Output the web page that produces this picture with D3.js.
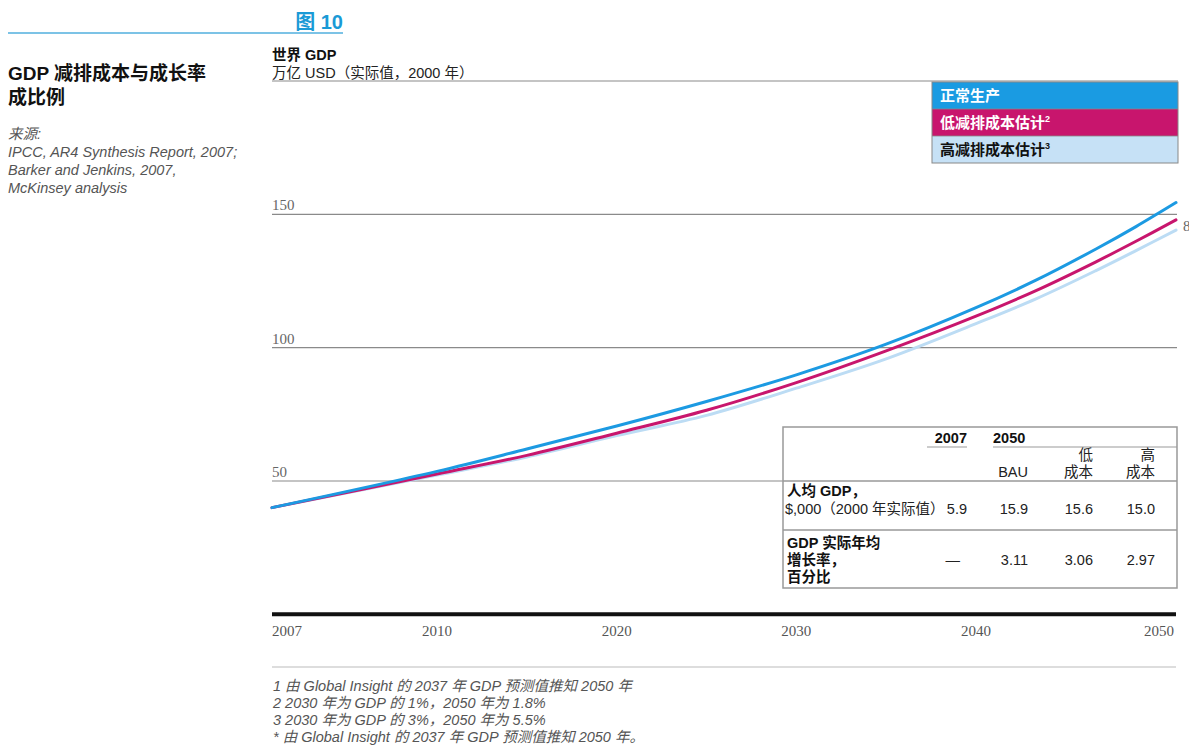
<!DOCTYPE html>
<html>
<head>
<meta charset="utf-8">
<script src="https://cdn.jsdelivr.net/npm/d3@7"></script>
<style>
  html, body { margin: 0; padding: 0; background: #ffffff; }
  svg { display: block; }
  .sans { font-family: "Liberation Sans", "Noto Sans CJK SC", sans-serif; }
  .serif { font-family: "Liberation Serif", "DejaVu Serif", serif; }
</style>
</head>
<body>
<svg id="chart" width="1189" height="746"></svg>
<script>
// World GDP, trillion USD (real, 2000)
const years    = [2007, 2010, 2015, 2020, 2025, 2030, 2035, 2040, 2043, 2046, 2048, 2050];
const bau      = [40.0, 53.6, 62.0, 70.6, 79.8, 89.8, 101.3, 115.0, 125.3, 137.0, 145.4, 154.4];
const lowCost  = [40.0, 52.6, 59.6, 67.9, 76.5, 86.9, 98.8, 111.8, 121.4, 132.2, 139.9, 147.9];
const highCost = [40.0, 52.2, 59.0, 67.0, 74.6, 84.8, 95.8, 109.0, 118.3, 128.9, 136.4, 144.1];

const seriesNames = ["正常生产", "低减排成本估计", "高减排成本估计"];
const seriesSup = ["", "2", "3"];

const xTicks = [2007, 2010, 2020, 2030, 2040, 2050];
const yTicks = [50, 100, 150];

// summary table
const tableYears = ["2007", "2050"];
const tableCols = ["BAU", ["低", "成本"], ["高", "成本"]];
const perCapita = ["5.9", "15.9", "15.6", "15.0"];
const growthRate = ["—", "3.11", "3.06", "2.97"];

const footnotes = [
  "1 由 Global Insight 的 2037 年 GDP 预测值推知 2050 年",
  "2 2030 年为 GDP 的 1%，2050 年为 1.8%",
  "3 2030 年为 GDP 的 3%，2050 年为 5.5%",
  "* 由 Global Insight 的 2037 年 GDP 预测值推知 2050 年。"
];

const colors = ["#1c9ae2", "#c8166d", "#bcdcf4"];
const legendFills = ["#1a9be2", "#c8156d", "#c6e1f6"];
const legendText = ["#ffffff", "#ffffff", "#111111"];

const svg = d3.select("#chart");

const x = d3.scaleLinear().domain([2007, 2010, 2040, 2050]).range([272, 437, 976, 1176]);
const y = d3.scaleLinear().domain([0, 200]).range([614.3, 81]);

// heading
svg.append("line").attr("x1", 8).attr("x2", 343).attr("y1", 33).attr("y2", 33)
  .attr("stroke", "#7cc3e6").attr("stroke-width", 2);
svg.append("text").attr("class", "sans").attr("x", 343).attr("y", 29)
  .attr("text-anchor", "end").attr("font-size", 20).attr("font-weight", "bold")
  .attr("fill", "#1a9ad6").text("图 10");

const title = svg.append("text").attr("class", "sans").attr("font-size", 19)
  .attr("font-weight", "bold").attr("fill", "#111");
title.append("tspan").attr("x", 8).attr("y", 80).text("GDP 减排成本与成长率");
title.append("tspan").attr("x", 8).attr("y", 104).text("成比例");

const src = svg.append("text").attr("class", "sans").attr("font-size", 14.5)
  .attr("font-style", "italic").attr("fill", "#555");
["来源:", "IPCC, AR4 Synthesis Report, 2007;", "Barker and Jenkins, 2007,", "McKinsey analysis"]
  .forEach((t, i) => src.append("tspan").attr("x", 8).attr("y", 139 + i * 18).text(t));

// axis title
svg.append("text").attr("class", "sans").attr("x", 272).attr("y", 60)
  .attr("font-size", 14.5).attr("font-weight", "bold").attr("fill", "#111").text("世界 GDP");
svg.append("text").attr("class", "sans").attr("x", 272).attr("y", 78)
  .attr("font-size", 14.5).attr("fill", "#222").text("万亿 USD（实际值，2000 年）");

// top frame line and gridlines
svg.append("line").attr("x1", 272).attr("x2", 1178).attr("y1", y(200)).attr("y2", y(200))
  .attr("stroke", "#8a8a8a").attr("stroke-width", 1.2);
const grid = svg.append("g");
grid.selectAll("line").data(yTicks).join("line")
  .attr("x1", 272).attr("x2", 1177)
  .attr("y1", d => y(d)).attr("y2", d => y(d))
  .attr("stroke", "#8a8a8a").attr("stroke-width", 1.2);
grid.selectAll("text").data(yTicks).join("text")
  .attr("class", "serif").attr("x", 272).attr("y", d => y(d) - 4)
  .attr("font-size", 15).attr("fill", "#666").text(d => d);

// lines
const line = d3.line().x((d, i) => x(years[i])).y(d => y(d)).curve(d3.curveCatmullRom.alpha(0.5));
const seriesData = [bau, lowCost, highCost];
[2, 1, 0].forEach(k => {
  svg.append("path").datum(seriesData[k])
    .attr("d", line).attr("fill", "none")
    .attr("stroke", colors[k]).attr("stroke-width", 3).attr("stroke-linecap", "round");
});

svg.append("text").attr("class", "serif").attr("x", 1183).attr("y", 231)
  .attr("font-size", 15).attr("fill", "#666").text("8");

// baseline and x labels
svg.append("line").attr("x1", 272).attr("x2", 1176).attr("y1", y(0)).attr("y2", y(0))
  .attr("stroke", "#111").attr("stroke-width", 4);
svg.append("g").selectAll("text").data(xTicks).join("text")
  .attr("class", "serif")
  .attr("x", d => d === 2050 ? x(d) - 2 : x(d))
  .attr("text-anchor", d => d === 2007 ? "start" : d === 2050 ? "end" : "middle")
  .attr("y", 636).attr("font-size", 15).attr("fill", "#555").text(d => d);

// legend
const lg = svg.append("g");
seriesNames.forEach((name, i) => {
  lg.append("rect").attr("x", 932).attr("y", 82 + i * 27).attr("width", 246).attr("height", 27)
    .attr("fill", legendFills[i]);
  const t = lg.append("text").attr("class", "sans").attr("x", 940).attr("y", 101 + i * 27)
    .attr("font-size", 15).attr("font-weight", "bold").attr("fill", legendText[i]).text(name);
  if (seriesSup[i]) t.append("tspan").attr("font-size", 9).attr("dy", -6).text(seriesSup[i]);
});
lg.append("rect").attr("x", 932).attr("y", 82).attr("width", 246).attr("height", 81)
  .attr("fill", "none").attr("stroke", "#888").attr("stroke-width", 1);
[109, 136].forEach(yy => lg.append("line").attr("x1", 932).attr("x2", 1178)
  .attr("y1", yy).attr("y2", yy).attr("stroke", "#888").attr("stroke-width", 0.8));

// table
const tb = svg.append("g").attr("class", "sans");
tb.append("rect").attr("x", 783).attr("y", 427).attr("width", 394).attr("height", 161)
  .attr("fill", "#fff").attr("stroke", "#999").attr("stroke-width", 1.5);
[481, 530].forEach(yy => tb.append("line").attr("x1", 783).attr("x2", 1177)
  .attr("y1", yy).attr("y2", yy).attr("stroke", "#999").attr("stroke-width", 1.3));
tb.append("text").attr("x", 967).attr("y", 443).attr("text-anchor", "end")
  .attr("font-size", 14.5).attr("font-weight", "bold").attr("fill", "#111").text(tableYears[0]);
tb.append("text").attr("x", 993).attr("y", 443)
  .attr("font-size", 14.5).attr("font-weight", "bold").attr("fill", "#111").text(tableYears[1]);
tb.append("line").attr("x1", 927).attr("x2", 967).attr("y1", 447).attr("y2", 447)
  .attr("stroke", "#999").attr("stroke-width", 1.2);
tb.append("line").attr("x1", 993).attr("x2", 1177).attr("y1", 447).attr("y2", 447)
  .attr("stroke", "#999").attr("stroke-width", 1.2);

const colRight = [967, 1028, 1093, 1155];
tb.append("text").attr("x", colRight[1]).attr("y", 477).attr("text-anchor", "end")
  .attr("font-size", 14.5).attr("fill", "#222").text(tableCols[0]);
[tableCols[1], tableCols[2]].forEach((c, i) => {
  const t = tb.append("text").attr("text-anchor", "end").attr("font-size", 14.5).attr("fill", "#222");
  t.append("tspan").attr("x", colRight[i + 2]).attr("y", 460).text(c[0]);
  t.append("tspan").attr("x", colRight[i + 2]).attr("y", 477).text(c[1]);
});

tb.append("text").attr("x", 787).attr("y", 496).attr("font-size", 14.5)
  .attr("font-weight", "bold").attr("fill", "#111").text("人均 GDP，");
tb.append("text").attr("x", 785).attr("y", 514).attr("font-size", 14.5)
  .attr("fill", "#222").text("$,000（2000 年实际值）");
perCapita.forEach((v, i) => tb.append("text").attr("x", colRight[i]).attr("y", 514)
  .attr("text-anchor", "end").attr("font-size", 14.5).attr("fill", "#222").text(v));

const g2 = tb.append("text").attr("font-size", 14.5).attr("font-weight", "bold").attr("fill", "#111");
["GDP 实际年均", "增长率，", "百分比"].forEach((t, i) =>
  g2.append("tspan").attr("x", 787).attr("y", 548 + i * 17).text(t));
growthRate.forEach((v, i) => tb.append("text").attr("x", i === 0 ? 960 : colRight[i]).attr("y", 565)
  .attr("text-anchor", "end").attr("font-size", 14.5).attr("fill", "#222").text(v));

// footnotes
svg.append("line").attr("x1", 272).attr("x2", 1176).attr("y1", 667).attr("y2", 667)
  .attr("stroke", "#bbb").attr("stroke-width", 1);
const fn = svg.append("text").attr("class", "sans").attr("font-size", 14.5)
  .attr("font-style", "italic").attr("fill", "#555");
footnotes.forEach((t, i) => fn.append("tspan").attr("x", 273).attr("y", 691 + i * 17).text(t));
</script>
</body>
</html>
